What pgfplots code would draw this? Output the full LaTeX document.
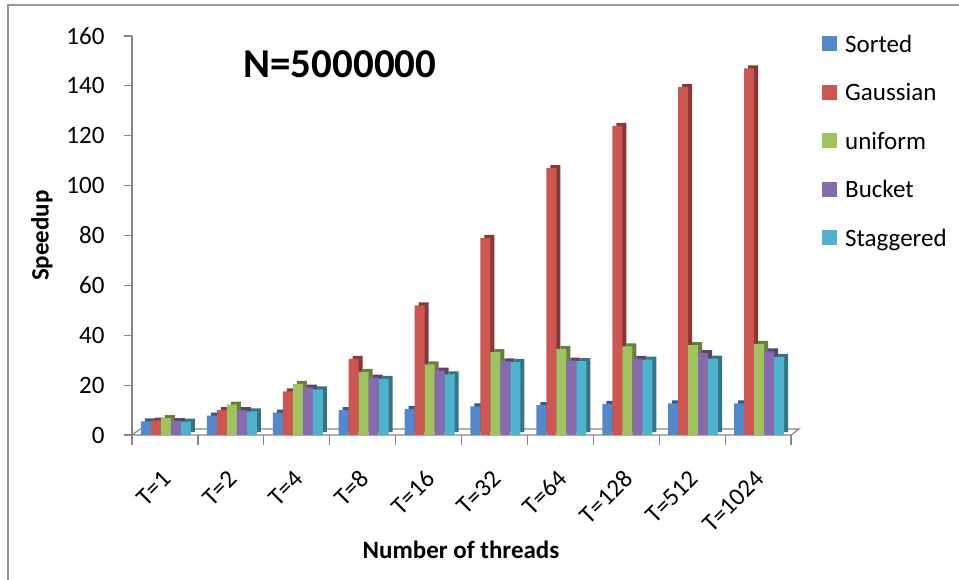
\documentclass[border=0pt]{standalone}
\usepackage{fontspec}
\setmainfont{Carlito}
\usepackage{pgfplots}
\usepackage{pgfplotstable}
\pgfplotsset{compat=1.18}

% series colours (front faces) and darker shades for the 3-D sides
\definecolor{cSorted}{RGB}{84,136,202}
\definecolor{cGauss}{RGB}{204,86,82}
\definecolor{cUnif}{RGB}{160,194,96}
\definecolor{cBucket}{RGB}{134,108,172}
\definecolor{cStag}{RGB}{80,178,204}
\colorlet{dSorted}{cSorted!65!black}
\colorlet{dGauss}{cGauss!65!black}
\colorlet{dUnif}{cUnif!65!black}
\colorlet{dBucket}{cBucket!65!black}
\colorlet{dStag}{cStag!65!black}
\definecolor{axgray}{RGB}{134,134,134}
\definecolor{framegray}{RGB}{150,150,150}

\newcommand\chartfont{\fontsize{25}{30}\selectfont}

% speedup for each thread count (x = category index)
\pgfplotstableread{
x sorted gauss unif bucket stag
0 5.5  5.8   6.8  5.6  5.4
1 7.8  10.0  12.2 10.0 9.5
2 9.0  17.5  20.5 19.0 18.3
3 10.0 30.5  25.3 23.0 22.5
4 10.5 52.0  28.3 25.8 24.3
5 11.5 79.0  33.2 29.5 29.3
6 12.0 107.0 34.5 29.8 29.6
7 12.5 124.0 35.5 30.5 30.2
8 12.7 139.5 36.0 32.8 30.6
9 12.7 147.0 36.5 33.5 31.3
}\speeddata

\begin{document}
\begin{tikzpicture}[x=1pt,y=1pt]
\useasboundingbox (0,0) rectangle (959,579);
% chart frame
\draw[line width=2.5pt, framegray] (8,-10) -- (8,574) -- (970,574);

\begin{axis}[
  at={(132pt,144pt)}, anchor=south west,
  scale only axis, width=659pt, height=399pt,
  xmin=-0.5, xmax=9.5, ymin=0, ymax=160,
  axis lines*=left,
  x axis line style={draw=none},
  y axis line style={axgray, line width=1.2pt, -},
  xtick={0,...,9},
  xticklabels={{T=1},{T=2},{T=4},{T=8},{T=16},{T=32},{T=64},{T=128},{T=512},{T=1024}},
  xtick style={draw=none},
  xticklabel style={font=\chartfont, rotate=45, anchor=east, inner sep=0pt, xshift=-21pt, yshift=-24pt},
  ytick={0,20,...,160},
  major tick length=8pt,
  tick align=outside,
  ytick style={axgray, line width=1.2pt},
  yticklabel style={font=\chartfont, xshift=-16pt},
  /pgf/number format/assume math mode=true,
  clip=false,
  ylabel={\bfseries Speedup},
  ylabel style={font=\chartfont, at={(axis description cs:-0.137,0.5)}, anchor=center},
  legend style={at={(rel axis cs:1.047,1.01)}, anchor=north west, draw=none, fill=none,
    font=\chartfont, inner sep=0pt, row sep=20.5pt,
    nodes={inner sep=2pt, text height=18pt, text depth=6pt},
    /tikz/every odd column/.style={column sep=6pt}},
  legend cell align=left,
  legend image code/.code={\fill[#1] (0pt,-5pt) rectangle (15pt,10pt);},
  bar width=10pt,
]

% floor of the plot area
\draw[axgray, line width=1.2pt] (axis cs:-0.5,0) -- ++(8pt,6pt) -- ++(659pt,0pt) -- ++(-8pt,-6pt) -- cycle;
% category separators below the floor
\pgfplotsinvokeforeach{-0.5,0.5,...,9.5}{
  \draw[axgray, line width=1.2pt] (axis cs:#1,0) -- ++(0pt,-10pt);
}

% side/top faces (drawn first, offset up and to the right)
\addplot[ybar, bar shift=-19pt, fill=dSorted, draw=none, xshift=4pt, yshift=3pt, forget plot] table[x=x,y=sorted]{\speeddata};
\addplot[ybar, bar shift=-9pt,  fill=dGauss,  draw=none, xshift=4pt, yshift=3pt, forget plot] table[x=x,y=gauss]{\speeddata};
\addplot[ybar, bar shift=1pt,   fill=dUnif,   draw=none, xshift=4pt, yshift=3pt, forget plot] table[x=x,y=unif]{\speeddata};
\addplot[ybar, bar shift=11pt,  fill=dBucket, draw=none, xshift=4pt, yshift=3pt, forget plot] table[x=x,y=bucket]{\speeddata};
\addplot[ybar, bar shift=21pt,  fill=dStag,   draw=none, xshift=4pt, yshift=3pt, forget plot] table[x=x,y=stag]{\speeddata};

% front faces
\addplot[ybar, bar shift=-19pt, fill=cSorted, draw=none] table[x=x,y=sorted]{\speeddata};
\addlegendentry{Sorted}
\addplot[ybar, bar shift=-9pt,  fill=cGauss,  draw=none] table[x=x,y=gauss]{\speeddata};
\addlegendentry{Gaussian}
\addplot[ybar, bar shift=1pt,   fill=cUnif,   draw=none] table[x=x,y=unif]{\speeddata};
\addlegendentry{uniform}
\addplot[ybar, bar shift=11pt,  fill=cBucket, draw=none] table[x=x,y=bucket]{\speeddata};
\addlegendentry{Bucket}
\addplot[ybar, bar shift=21pt,  fill=cStag,   draw=none] table[x=x,y=stag]{\speeddata};
\addlegendentry{Staggered}
\end{axis}

\node[font=\fontsize{41}{48}\selectfont\bfseries] at (340,515) {N=5000000};
\node[font=\chartfont\bfseries] at (461,29) {Number of threads};
\end{tikzpicture}
\end{document}
